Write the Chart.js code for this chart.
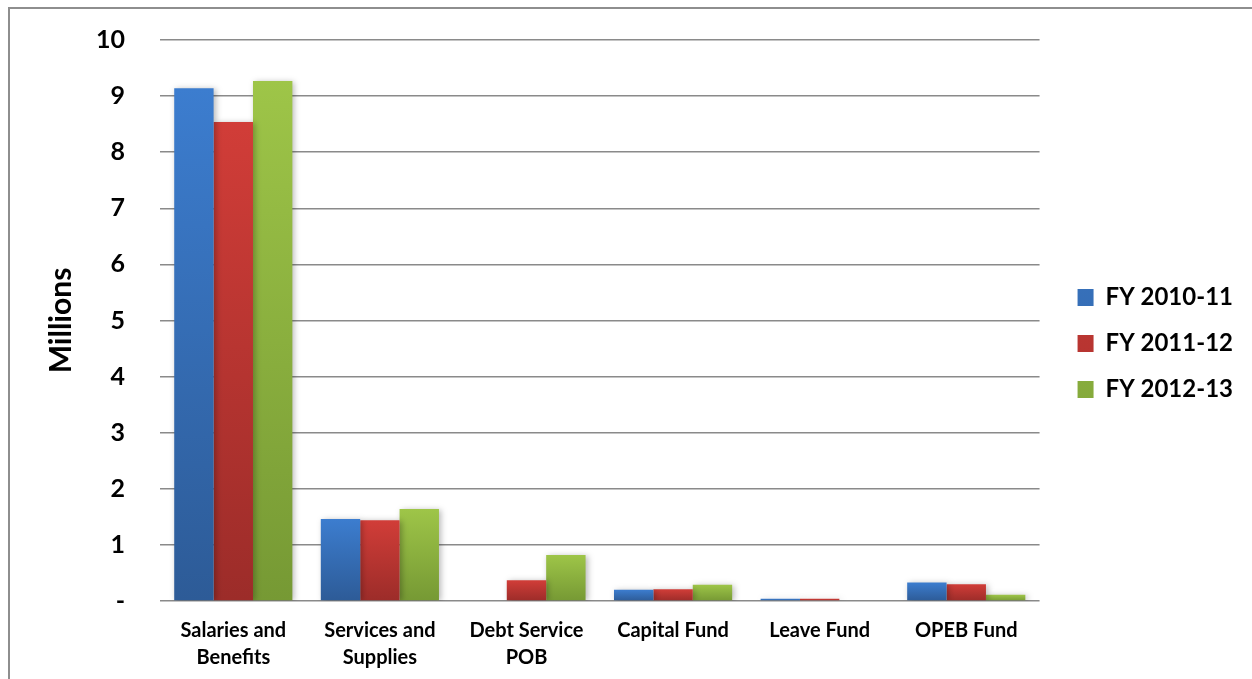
<!DOCTYPE html>
<html>
<head>
<meta charset="utf-8">
<script src="https://cdn.jsdelivr.net/npm/chart.js@4.4.1/dist/chart.umd.min.js"></script>
<style>
  html, body { margin: 0; padding: 0; background: #fff; }
  #wrap { position: relative; width: 1252px; height: 679px; overflow: hidden; }
  #frame { position: absolute; left: 8px; top: 7px; width: 1400px; height: 800px; border: 2px solid #8e8e8e; box-sizing: border-box; }
  #chart { position: absolute; left: 0; top: 0; }
</style>
</head>
<body>
<div id="wrap">
  <div id="frame"></div>
  <canvas id="chart" width="1252" height="679"></canvas>
</div>
<script>
// Expenditure categories (x axis)
const categories = [
  ['Salaries and', 'Benefits'],
  ['Services and', 'Supplies'],
  ['Debt Service', 'POB'],
  'Capital Fund',
  'Leave Fund',
  'OPEB Fund'
];

// Fiscal-year series, in millions
const fy2010_11 = [9.14, 1.46, 0.00, 0.20, 0.04, 0.33];
const fy2011_12 = [8.54, 1.44, 0.37, 0.21, 0.04, 0.30];
const fy2012_13 = [9.27, 1.64, 0.82, 0.29, 0.00, 0.11];

const seriesNames = ['FY 2010-11', 'FY 2011-12', 'FY 2012-13'];

// Y axis ticks
const yTicks = [0, 1, 2, 3, 4, 5, 6, 7, 8, 9, 10];
const yTickLabels = ['-', '1', '2', '3', '4', '5', '6', '7', '8', '9', '10'];

// Light (top) and dark (bottom) shades per series
const shades = [
  ['#3c7dcf', '#2d5b97'],
  ['#d13d38', '#9c2c29'],
  ['#9ec548', '#769934']
];

// Vertical gradient running from the top of each bar down to the zero line
function barFill(i) {
  return function (ctx) {
    const chart = ctx.chart;
    const y = chart.scales && chart.scales.y;
    const v = ctx.raw;
    if (!chart.chartArea || !y || typeof v !== 'number') return shades[i][0];
    const top = y.getPixelForValue(v);
    const bottom = y.getPixelForValue(0);
    if (bottom - top < 1) return shades[i][1];
    const g = chart.ctx.createLinearGradient(0, top, 0, bottom);
    g.addColorStop(0, shades[i][0]);
    g.addColorStop(1, shades[i][1]);
    return g;
  };
}

// Soft drop shadow under the bars
const barShadow = {
  id: 'barShadow',
  beforeDatasetsDraw(chart) {
    const c = chart.ctx;
    c.save();
    c.shadowColor = 'rgba(0,0,0,0.28)';
    c.shadowBlur = 6;
    c.shadowOffsetX = 2;
    c.shadowOffsetY = 1;
  },
  afterDatasetsDraw(chart) {
    chart.ctx.restore();
  }
};

// Leave a gap between the plot area and the legend, and lift the legend a little
const legendPlace = {
  id: 'legendPlace',
  afterLayout(chart) {
    const lg = chart.legend;
    if (lg) {
      lg.left += 16; lg.right += 16;
      lg.top -= 16; lg.bottom -= 16;
    }
  }
};

const FONT = 'Lato, "Open Sans", sans-serif';

function draw() {
  const values = [fy2010_11, fy2011_12, fy2012_13];
  new Chart(document.getElementById('chart'), {
    type: 'bar',
    data: {
      labels: categories,
      datasets: values.map((d, i) => ({
        label: seriesNames[i],
        data: d,
        backgroundColor: barFill(i),
        borderWidth: 0,
        barPercentage: 1.0,
        categoryPercentage: 0.806
      }))
    },
    plugins: [barShadow, legendPlace],
    options: {
      responsive: false,
      animation: false,
      devicePixelRatio: 1,
      layout: { padding: { top: 40, left: 0, right: 25, bottom: 0 } },
      plugins: {
        tooltip: { enabled: false },
        legend: {
          position: 'right',
          align: 'center',
          labels: {
            color: '#000',
            font: { family: FONT, size: 24, weight: 'bold' },
            boxWidth: 16,
            boxHeight: 17,
            padding: 22
          }
        }
      },
      scales: {
        x: {
          grid: { display: false },
          border: { display: false },
          ticks: {
            color: '#000',
            autoSkip: false,
            maxRotation: 0,
            padding: 8,
            font: { family: FONT, size: 20, weight: 'bold', lineHeight: 1.36 }
          },
          afterFit(scale) { scale.height = 78; }
        },
        y: {
          min: 0,
          max: 10,
          afterBuildTicks(scale) { scale.ticks = yTicks.map(v => ({ value: v })); },
          grid: { color: '#8a8a8a', lineWidth: 1.5, drawTicks: false },
          border: { display: false },
          ticks: {
            color: '#000',
            padding: 35,
            font: { family: FONT, size: 25, weight: 'bold' },
            callback: (v) => yTickLabels[yTicks.indexOf(v)]
          },
          title: {
            display: true,
            text: 'Millions',
            color: '#000',
            font: { family: FONT, size: 30, weight: 'bold' },
            padding: { top: 43, bottom: 0 }
          },
          afterFit(scale) {
            scale.width = 160;
            // the label overhang fits inside the layout padding
            scale.paddingTop = 0;
            scale.paddingBottom = 0;
          }
        }
      }
    }
  });
}

Promise.all([
  document.fonts.load('bold 24px Lato'),
  document.fonts.load('bold 20px Lato')
]).then(draw, draw);
</script>
</body>
</html>
